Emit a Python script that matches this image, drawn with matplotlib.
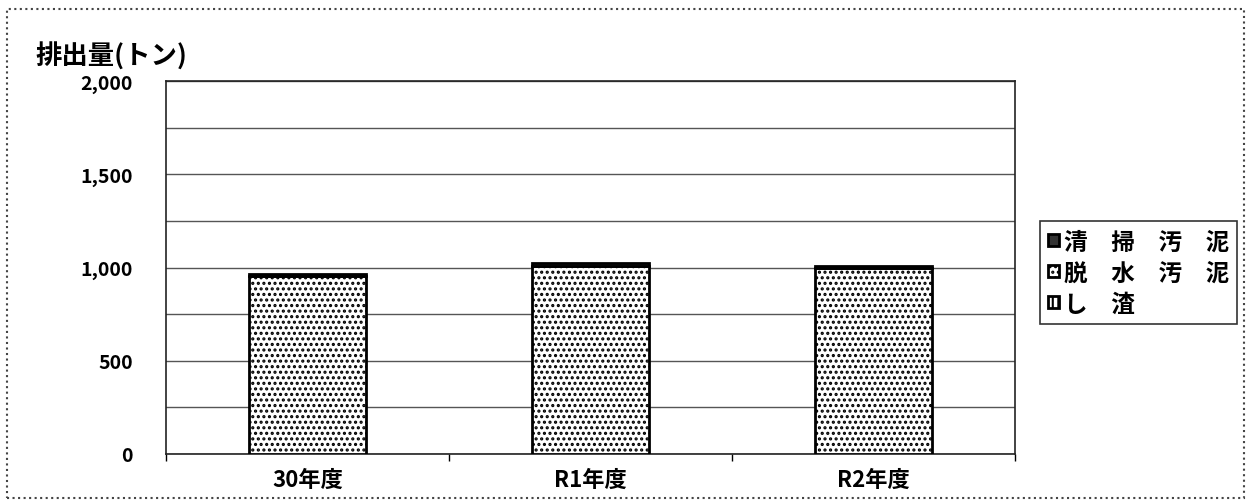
import matplotlib
matplotlib.use("Agg")
import matplotlib.pyplot as plt
from matplotlib.patches import Rectangle
from matplotlib.ticker import FuncFormatter, MultipleLocator

plt.rcParams["font.family"] = ["Noto Sans CJK JP", "DejaVu Sans"]
plt.rcParams["hatch.linewidth"] = 1.5

# データ（トン）
years = ["30年度", "R1年度", "R2年度"]
shisa = [2, 2, 2]            # し渣
dassui = [950, 1005, 993]    # 脱水汚泥
seisou = [13, 15, 12]        # 清掃汚泥
legend_labels = ["清\u3000掃\u3000汚\u3000泥", "脱\u3000水\u3000汚\u3000泥", "し\u3000渣"]

fig = plt.figure(figsize=(12.49, 5.02), dpi=100)
ax = fig.add_axes([166 / 1249, 1 - 455 / 502, 849 / 1249, 373 / 502])

x = list(range(len(years)))
w = 0.41
b1 = ax.bar(x, shisa, w, color="white", edgecolor="black", hatch="|||", linewidth=2, zorder=3)
bottom2 = shisa
b2 = ax.bar(x, dassui, w, bottom=bottom2, color="white", edgecolor="black", hatch="...",
            linewidth=2, zorder=3)
bottom3 = [a + b for a, b in zip(shisa, dassui)]
b3 = ax.bar(x, seisou, w, bottom=bottom3, color="#333333", edgecolor="black",
            linewidth=2, zorder=3)

ax.set_xlim(-0.5, 2.5)
ax.set_ylim(0, 2000)
ax.yaxis.set_major_locator(MultipleLocator(500))
ax.yaxis.set_minor_locator(MultipleLocator(250))
ax.yaxis.set_major_formatter(FuncFormatter(lambda v, p: f"{int(v):,}"))
ax.grid(axis="y", which="both", color="#555555", linewidth=1.0, zorder=1)
ax.tick_params(axis="y", which="both", length=0, pad=24)
ax.set_xticks(x)
ax.set_xticklabels(years)
ax.set_xticks([-0.5, 0.5, 1.5, 2.5], minor=True)
ax.tick_params(axis="x", which="major", length=0, pad=10)
ax.tick_params(axis="x", which="minor", length=5, direction="out", width=1)
for lab in ax.get_yticklabels():
    lab.set_fontsize(14)
    lab.set_fontweight("bold")
for lab in ax.get_xticklabels():
    lab.set_fontsize(16)
    lab.set_fontweight("bold")
for s in ax.spines.values():
    s.set_linewidth(1.2)
    s.set_color("#222222")

fig.text(35 / 1249, 1 - 57 / 502, "排出量(トン)", fontsize=19, fontweight="bold", va="center")

# 凡例（上が積み上げの上段）
leg = fig.legend([b3, b2, b1], legend_labels, loc="upper left",
                 bbox_to_anchor=(1040 / 1249, 1 - 222 / 502), frameon=True, fancybox=False,
                 prop={"size": 17, "weight": "bold"}, handlelength=0.45, handleheight=0.45,
                 handletextpad=0.2, labelspacing=0.3, borderpad=0.35, borderaxespad=0)
leg.get_frame().set_edgecolor("black")
leg.get_frame().set_linewidth(1.2)

# 外枠
fig.patches.append(Rectangle((7 / 1249, 3 / 502), 1237 / 1249, 489 / 502, transform=fig.transFigure,
                             fill=False, edgecolor="#444444", linestyle=":", linewidth=1.5))

fig.savefig("out.png", dpi=100)
